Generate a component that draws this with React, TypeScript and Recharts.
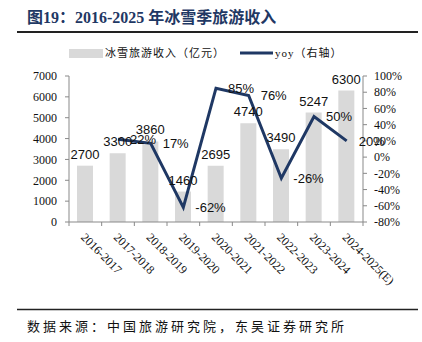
import React from 'react';
import { ComposedChart, Bar, Line, XAxis, YAxis, LabelList } from 'recharts';

const periods = [
  '2016-2017', '2017-2018', '2018-2019', '2019-2020', '2020-2021',
  '2021-2022', '2022-2023', '2023-2024', '2024-2025(E)',
];
const revenue = [2700, 3300, 3860, 1460, 2695, 4740, 3490, 5247, 6300];
const yoy: (number | null)[] = [null, 22, 17, -62, 85, 76, -26, 50, 20];
const revenueTicks = [0, 1000, 2000, 3000, 4000, 5000, 6000, 7000];
const yoyTicks = [-80, -60, -40, -20, 0, 20, 40, 60, 80, 100];

const data = periods.map((period, i) => ({ period, revenue: revenue[i], yoy: yoy[i] }));

const W = 422;
const H = 342;
const CHART_H = 300;
const LEFT_W = 69;
const RIGHT_W = 59;
const band = (W - LEFT_W - RIGHT_W) / periods.length;

const NAVY = '#1f3864';
const AXIS = '#898989';
const SERIF = '"Liberation Serif", "Noto Sans CJK SC", serif';
const SANS = '"Liberation Sans", Arial, sans-serif';
const CJK = '"Liberation Serif", "Noto Sans CJK SC", sans-serif';

const CategoryTick = (props: any) => {
  const { x, y, payload, index } = props;
  return (
    <g transform={`translate(${x},${y})`}>
      {index === 0 && <line x1={-band / 2} x2={-band / 2} y1={0} y2={4} stroke={AXIS} />}
      <line x1={band / 2} x2={band / 2} y1={0} y2={4} stroke={AXIS} />
      <text
        x={-5}
        y={16}
        transform="rotate(45, -5, 16)"
        textAnchor="start"
        fontSize={12}
        fontFamily={SERIF}
        fill="#111"
      >
        {payload.value}
      </text>
    </g>
  );
};

const App = () => (
  <div style={{ position: 'absolute', left: 0, top: 0, width: W, height: H, background: '#fff' }}>
    <svg width={W} height={H} style={{ position: 'absolute', left: 0, top: 0 }}>
      <text x={27} y={23} fontSize={16} fontWeight="bold" fontFamily={SERIF} fill={NAVY}>
        图19：2016-2025 年冰雪季旅游收入
      </text>
      <line x1={17} x2={418} y1={32} y2={32} stroke="#222" strokeWidth={2} />
      <rect x={69} y={49} width={34} height={9} fill="#d9d9d9" />
      <text x={105} y={57} fontSize={11} letterSpacing={1} fontFamily={CJK} fill="#111">
        冰雪旅游收入（亿元）
      </text>
      <line x1={240} x2={273} y1={53} y2={53} stroke={NAVY} strokeWidth={3} />
      <text x={275} y={57} fontSize={11} letterSpacing={1} fontFamily={CJK} fill="#111">
        yoy（右轴）
      </text>
      <line x1={17} x2={418} y1={309.5} y2={309.5} stroke="#222" strokeWidth={1.5} />
      <text x={27} y={331} fontSize={13} letterSpacing={3} fontFamily={CJK} fill="#111">
        数据来源：中国旅游研究院，东吴证券研究所
      </text>
    </svg>
    <div style={{ position: 'absolute', left: 0, top: 0 }}>
      <ComposedChart
        width={W}
        height={CHART_H}
        data={data}
        margin={{ top: 76, right: 0, bottom: 0, left: 0 }}
      >
        <XAxis
          dataKey="period"
          height={78}
          interval={0}
          tickLine={false}
          tickSize={0}
          tickMargin={0}
          axisLine={{ stroke: AXIS }}
          tick={<CategoryTick />}
        />
        <YAxis
          yAxisId="left"
          width={LEFT_W}
          domain={[0, 7000]}
          ticks={revenueTicks}
          interval={0}
          tickSize={4}
          tickMargin={8}
          axisLine={{ stroke: AXIS }}
          tickLine={{ stroke: AXIS }}
          tick={{ fontSize: 12, fontFamily: SERIF, fill: '#111' }}
        />
        <YAxis
          yAxisId="right"
          orientation="right"
          width={RIGHT_W}
          domain={[-80, 100]}
          ticks={yoyTicks}
          interval={0}
          tickSize={4}
          tickMargin={7}
          axisLine={{ stroke: AXIS }}
          tickLine={{ stroke: AXIS }}
          tickFormatter={(v: number) => `${v}%`}
          tick={{ fontSize: 12, fontFamily: SERIF, fill: '#111' }}
        />
        <Bar yAxisId="left" dataKey="revenue" fill="#d9d9d9" barSize={16} isAnimationActive={false}>
          <LabelList
            dataKey="revenue"
            position="top"
            offset={7}
            style={{ fontSize: 13, fontFamily: SANS, fill: '#111' }}
          />
        </Bar>
        <Line
          yAxisId="right"
          dataKey="yoy"
          type="linear"
          stroke={NAVY}
          strokeWidth={3}
          dot={false}
          activeDot={false}
          isAnimationActive={false}
        >
          <LabelList
            dataKey="yoy"
            position="right"
            offset={12}
            formatter={(v: any) => (v === null || v === undefined ? '' : `${v}%`)}
            style={{ fontSize: 13, fontFamily: SANS, fill: '#111' }}
          />
        </Line>
      </ComposedChart>
    </div>
  </div>
);

export default App;
